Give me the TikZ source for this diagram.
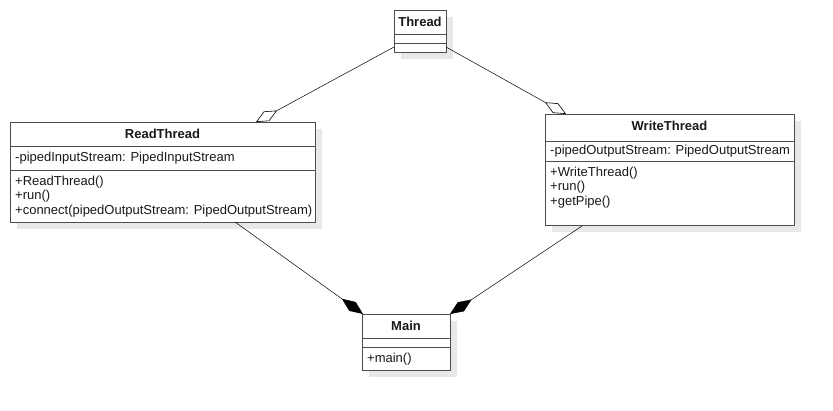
\documentclass[tikz,border=0pt]{standalone}
\usepackage{fontspec}
\setmainfont{Liberation Sans}
\usetikzlibrary{arrows.meta,shadows}
\newfontfamily\umlfont{Liberation Sans}

\begin{document}
\begin{tikzpicture}[x=1pt,y=-1pt,
  cls/.style={draw=black!70, line width=0.8pt, fill=white, rectangle, inner sep=0pt,
    anchor=north west,
    drop shadow={shadow xshift=7pt, shadow yshift=-7pt, fill=black!9, opacity=1}},
  sep/.style={draw=black!70, line width=0.8pt},
  ttl/.style={anchor=base, inner sep=0pt, font=\umlfont\fontsize{13}{15}\selectfont\bfseries, text=black!90},
  lbl/.style={anchor=base west, inner sep=0pt, font=\umlfont\fontsize{13}{15}\selectfont, text=black!90},
  link/.style={draw=black, line width=0.5pt},
  agg/.style={link, -{Diamond[open, length=24pt, width=11pt, line width=0.6pt]}},
  comp/.style={link, -{Diamond[fill=black, length=26pt, width=11pt]}}]

\useasboundingbox (0,0) rectangle (833,411);

% Thread
\node[cls, minimum width=52pt, minimum height=42pt] (thread) at (394,10) {};
\node[ttl] (threadname) at (420,26.5) {Thread};
\draw[sep] (394,34) -- (446,34);
\draw[sep] (394,43) -- (446,43);

% ReadThread
\node[cls, minimum width=305pt, minimum height=100pt] (read) at (10,122) {};
\node[ttl] (readname) at (162.5,138.5) {ReadThread};
\draw[sep] (10,146) -- (315,146);
\node[lbl] (readattr) at (15,161.5) {-pipedInputStream: PipedInputStream};
\draw[sep] (10,170) -- (315,170);
\node[lbl] (readm1) at (15,185.5) {+ReadThread()};
\node[lbl] (readm2) at (15,200) {+run()};
\node[lbl] (readm3) at (15,214.5) {+connect(pipedOutputStream: PipedOutputStream)};

% WriteThread
\node[cls, minimum width=249pt, minimum height=111pt] (write) at (545,114) {};
\node[ttl] (writename) at (669.5,131) {WriteThread};
\draw[sep] (545,141.5) -- (794,141.5);
\node[lbl] (writeattr) at (550,154.5) {-pipedOutputStream: PipedOutputStream};
\draw[sep] (545,161.5) -- (794,161.5);
\node[lbl] (writem1) at (550,176.5) {+WriteThread()};
\node[lbl] (writem2) at (550,191) {+run()};
\node[lbl] (writem3) at (550,206) {+getPipe()};

% Main
\node[cls, minimum width=88pt, minimum height=56pt] (main) at (362,314) {};
\node[ttl] (mainname) at (406,330.5) {Main};
\draw[sep] (362,338) -- (450,338);
\draw[sep] (362,347) -- (450,347);
\node[lbl] (mainm1) at (367,362.5) {+main()};

% connector end points
\coordinate (tl) at (394,47);
\coordinate (tr) at (446,47);
\coordinate (rtop) at (256,122);
\coordinate (wtop) at (566,114);
\coordinate (rbot) at (235,222);
\coordinate (wbot) at (582,226);
\coordinate (ml) at (363,314);
\coordinate (mr) at (450,314);

% aggregation to Thread
\draw[agg] (tl) -- (rtop);
\draw[agg] (tr) -- (wtop);
% composition into Main
\draw[comp] (rbot) -- (ml);
\draw[comp] (wbot) -- (mr);
\end{tikzpicture}
\end{document}
